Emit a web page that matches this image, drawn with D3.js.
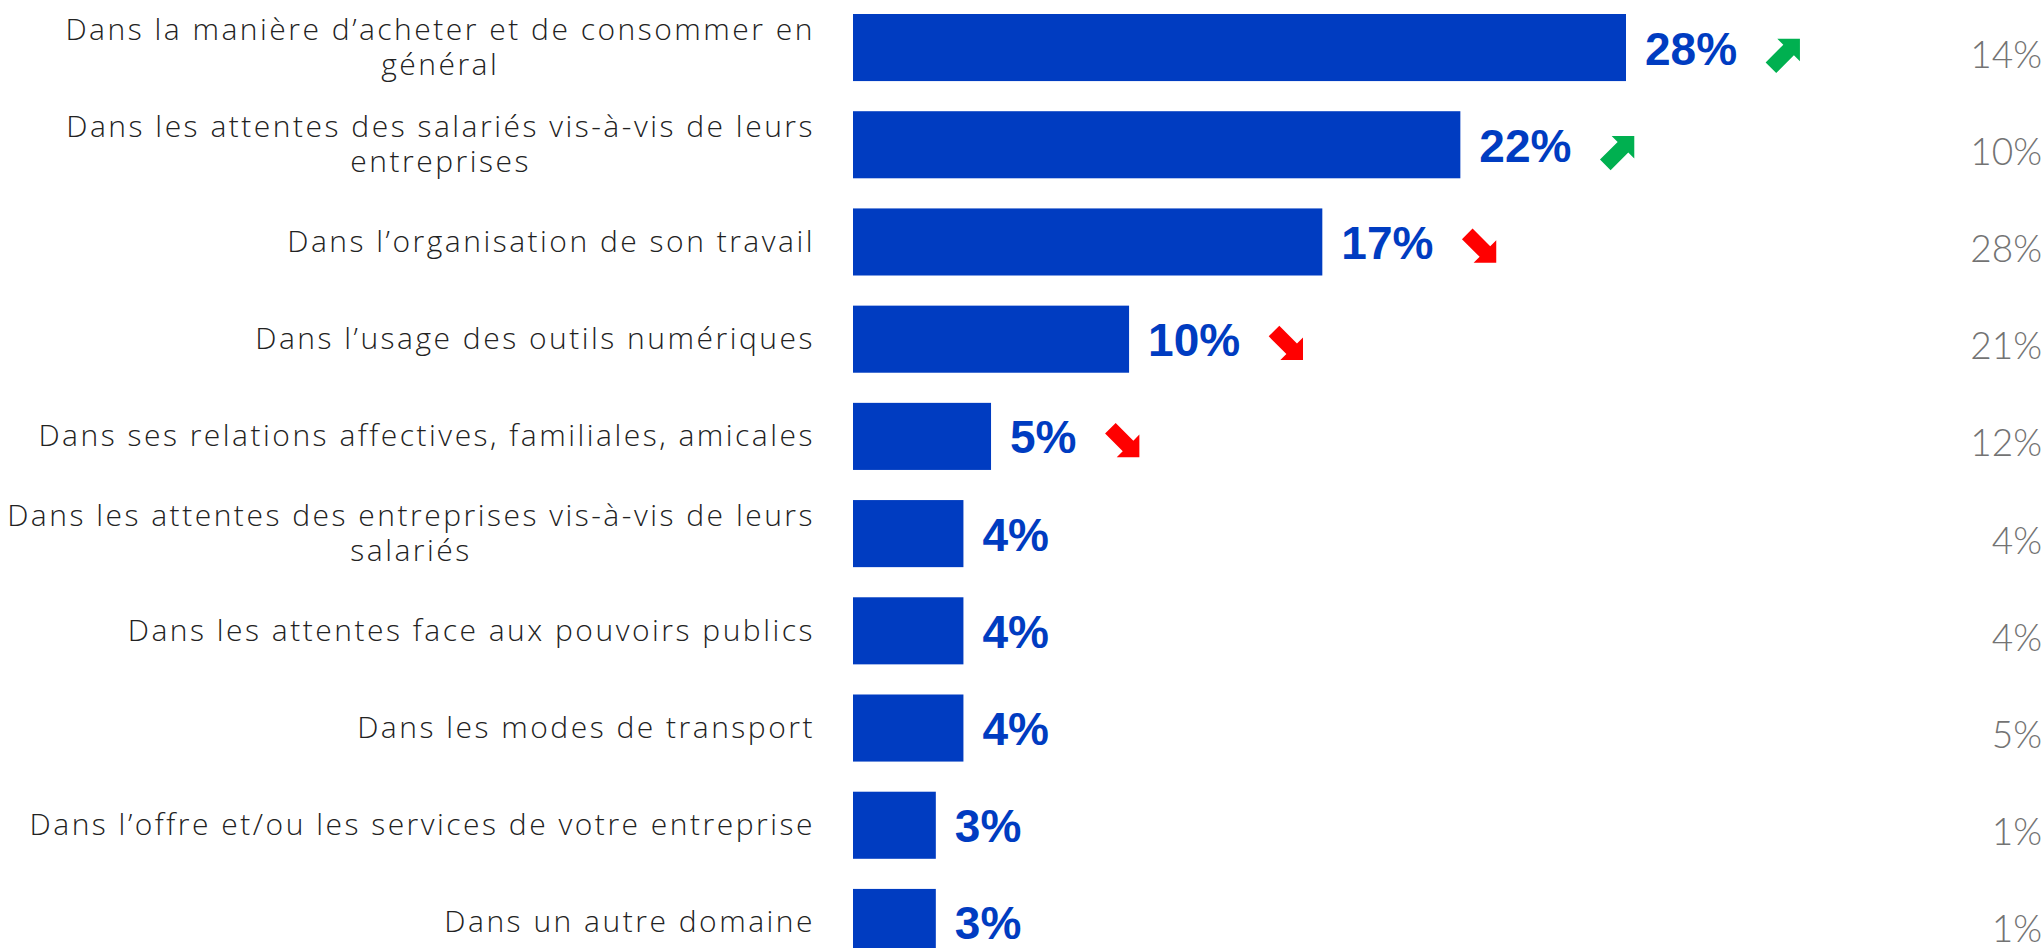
<!DOCTYPE html>
<html>
<head>
<meta charset="utf-8">
<script src="https://cdn.jsdelivr.net/npm/d3@7"></script>
<style>
  html, body { margin: 0; padding: 0; background: #fff; }
</style>
</head>
<body>
<div id="chart"></div>
<script>
// Data
const categories = [
  "Dans la manière d’acheter et de consommer en\ngénéral",
  "Dans les attentes des salariés vis-à-vis de leurs\nentreprises",
  "Dans l’organisation de son travail",
  "Dans l’usage des outils numériques",
  "Dans ses relations affectives, familiales, amicales",
  "Dans les attentes des entreprises vis-à-vis de leurs\nsalariés",
  "Dans les attentes face aux pouvoirs publics",
  "Dans les modes de transport",
  "Dans l’offre et/ou les services de votre entreprise",
  "Dans un autre domaine"
];
const values = [28, 22, 17, 10, 5, 4, 4, 4, 3, 3];
const previous = [14, 10, 28, 21, 12, 4, 4, 5, 1, 1];
const trends = ["up", "up", "down", "down", "down", null, null, null, null, null];

// Dimensions
const width = 2044;
const height = 948;
const barLeft = 853;
const labelRight = 815;

const blue = "#003CC1";

// Scales
const x = d3.scaleLinear([0, 28], [barLeft, 1626]);
const y = d3.scaleBand(d3.range(categories.length), [14, 956])
    .paddingInner(0.31)
    .paddingOuter(0);

const svg = d3.create("svg")
    .attr("width", width)
    .attr("height", height)
    .style("background", "#fff");

// svg must be in the page so text lengths can be measured
document.getElementById("chart").append(svg.node());

// Bars
svg.append("g")
  .selectAll("rect")
  .data(values)
  .join("rect")
    .attr("x", x(0))
    .attr("y", (d, i) => y(i))
    .attr("width", d => x(d) - x(0))
    .attr("height", y.bandwidth())
    .attr("fill", blue);

// Value labels
const valueLabels = svg.append("g")
  .selectAll("text")
  .data(values)
  .join("text")
    .attr("x", d => x(d) + 19)
    .attr("y", (d, i) => y(i) + y.bandwidth() / 2 + 17)
    .attr("font-family", "'Liberation Sans', Arial, sans-serif")
    .attr("font-weight", "bold")
    .attr("font-size", 46)
    .attr("fill", blue)
    .text(d => d + "%");

// Category labels (left)
const catGroup = svg.append("g")
    .attr("font-family", "'Open Sans', Lato, sans-serif")
    .attr("font-size", 30)
    .attr("font-weight", 300)
    .attr("letter-spacing", 2.5)
    .attr("fill", "#222");

categories.forEach((c, i) => {
  const lines = c.split("\n");
  const cy = y(i) + y.bandwidth() / 2;
  const lh = 35;
  const t = catGroup.append("text")
      .attr("text-anchor", lines.length > 1 ? "middle" : "end");
  lines.forEach((l, j) => {
    t.append("tspan")
      .attr("x", labelRight)
      .attr("y", cy + (j - (lines.length - 1) / 2) * lh + 10)
      .text(l);
  });
  if (lines.length > 1) {
    const maxW = d3.max(t.selectAll("tspan").nodes(), n => n.getComputedTextLength());
    t.selectAll("tspan").attr("x", labelRight - maxW / 2);
  }
});

// Previous wave values (right column)
svg.append("g")
  .selectAll("text")
  .data(previous)
  .join("text")
    .attr("x", 2042)
    .attr("y", (d, i) => y(i) + y.bandwidth() / 2 + 20)
    .attr("text-anchor", "end")
    .attr("font-family", "Lato, 'Open Sans', sans-serif")
    .attr("font-weight", 300)
    .attr("font-size", 37)
    .attr("fill", "#737373")
    .text(d => d + "%");

// Trend arrows, placed after the value labels
const arrowPath = "M-20,-7.5 L5,-7.5 L5,-16 L21,0 L5,16 L5,7.5 L-20,7.5 Z";
valueLabels.each(function(d, i) {
  if (!trends[i]) return;
  const end = x(d) + 19 + this.getComputedTextLength();
  const cx = end + 48;
  const cy = y(i) + y.bandwidth() / 2 + 6;
  svg.append("path")
    .attr("d", arrowPath)
    .attr("transform", `translate(${cx},${cy}) rotate(${trends[i] === "up" ? -45 : 45})`)
    .attr("fill", trends[i] === "up" ? "#00B050" : "#FF0000");
});
</script>
</body>
</html>
